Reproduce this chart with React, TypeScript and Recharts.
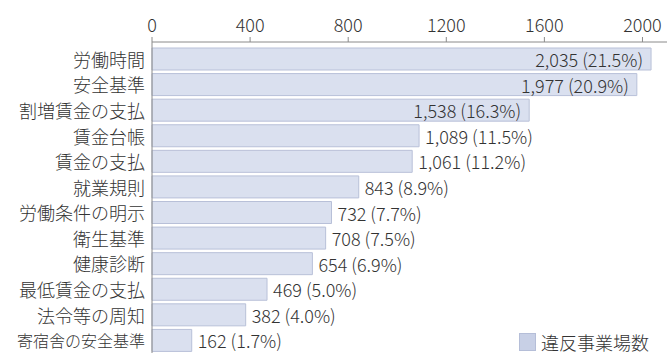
import { BarChart, Bar, XAxis, YAxis, Legend, LabelList } from "recharts";

const categories = [
  "労働時間",
  "安全基準",
  "割増賃金の支払",
  "賃金台帳",
  "賃金の支払",
  "就業規則",
  "労働条件の明示",
  "衛生基準",
  "健康診断",
  "最低賃金の支払",
  "法令等の周知",
  "寄宿舎の安全基準",
];
const counts = [2035, 1977, 1538, 1089, 1061, 843, 732, 708, 654, 469, 382, 162];
const shares = [21.5, 20.9, 16.3, 11.5, 11.2, 8.9, 7.7, 7.5, 6.9, 5.0, 4.0, 1.7];
const xTicks = [0, 400, 800, 1200, 1600, 2000];

const data = categories.map((name, i) => ({ name, count: counts[i], share: shares[i] }));

const FONT = "'Noto Sans CJK JP', 'Noto Sans', sans-serif";
const TEXT = "#333";

function renderCategoryTick(props: any) {
  const { x, y, payload } = props;
  const label = String(payload?.value ?? "");
  // the longest label is squeezed to the width of the others, as in the print
  const long = Array.from(label).length > 7;
  return (
    <text
      key={label}
      x={x}
      y={y}
      textAnchor="end"
      dominantBaseline="central"
      fontSize={long ? 16 : 18}
      fontWeight={300}
      fontFamily={FONT}
      fill={TEXT}
    >
      {label}
    </text>
  );
}

function ValueLabel(props: any) {
  const { x, y, width, height, index } = props;
  const text = `${counts[index].toLocaleString("en-US")} (${shares[index].toFixed(1)}%)`;
  // the three longest bars carry their label inside
  const inside = counts[index] > 1500;
  return (
    <text
      x={inside ? x + width - 8 : x + width + 6}
      y={y + height / 2}
      textAnchor={inside ? "end" : "start"}
      dominantBaseline="central"
      fontSize={18}
      fontWeight={300}
      fontFamily={FONT}
      fill={TEXT}
    >
      {text}
    </text>
  );
}

function LegendBox(props: any) {
  const item = props.payload?.[0];
  return (
    <div
      style={{
        display: "flex",
        alignItems: "center",
        fontFamily: FONT,
        fontSize: 18,
        fontWeight: 300,
        color: TEXT,
        lineHeight: "20px",
      }}
    >
      <span
        style={{
          display: "inline-block",
          width: 15,
          height: 16,
          background: "#c8d0e6",
          border: "1px solid #b5bed8",
          marginRight: 5,
        }}
      />
      <span>{item ? item.value : ""}</span>
    </div>
  );
}

export default function App() {
  return (
    <div style={{ position: "absolute", left: 0, top: 0, background: "#fff" }}>
      <BarChart
        width={671}
        height={353}
        data={data}
        layout="vertical"
        margin={{ top: 0, right: 4, left: 0, bottom: 0 }}
      >
        <XAxis
          type="number"
          orientation="top"
          domain={[0, 2100]}
          ticks={xTicks}
          height={42}
          tickSize={5}
          tickMargin={5}
          stroke="#8a8a8a"
          tick={{ fontSize: 18, fontFamily: FONT, fontWeight: 300, fill: TEXT }}
        />
        <YAxis
          type="category"
          dataKey="name"
          width={152}
          padding={{ top: 4, bottom: 0 }}
          tickLine={false}
          tickSize={5}
          tickMargin={2}
          stroke="#8a8a8a"
          tick={renderCategoryTick}
          interval={0}
        />
        <Legend
          layout="horizontal"
          verticalAlign="middle"
          align="center"
          content={<LegendBox />}
          wrapperStyle={{ left: 519, top: 332, width: 160 }}
        />
        <Bar
          dataKey="count"
          name="違反事業場数"
          fill="#dae0ef"
          stroke="#b8c0d8"
          strokeWidth={1}
          barSize={22}
          isAnimationActive={false}
        >
          <LabelList dataKey="count" content={<ValueLabel />} />
        </Bar>
      </BarChart>
    </div>
  );
}
